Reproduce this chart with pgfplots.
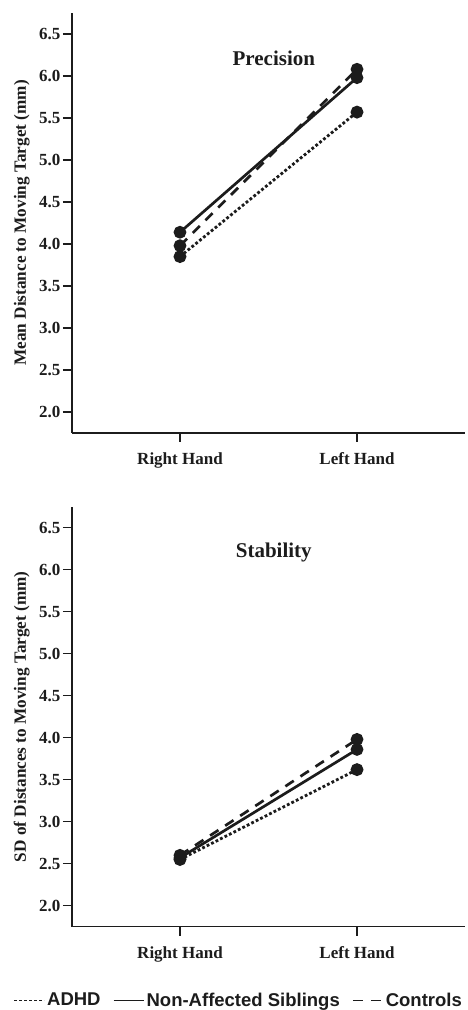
\documentclass[border=0pt]{standalone}
\usepackage{pgfplots}
\pgfplotsset{compat=1.18}
\usepackage{fontspec}
\setmainfont{Liberation Serif}
\newfontfamily\legfont{Liberation Sans}
\definecolor{ink}{HTML}{1C1C1C}
\begin{document}
\begin{tikzpicture}
\useasboundingbox (0pt,0pt) rectangle (467pt,1010pt);
\pgfplotsset{
  myaxis/.style={
    scale only axis, width=393pt, height=420pt,
    xmin=-0.61, xmax=1.61, ymin=1.75, ymax=6.75,
    axis lines=left,
    axis line style={-, line width=1.1pt, draw=ink},
    xtick={0,1}, xticklabels={Right Hand, Left Hand},
    ytick={2,2.5,3,3.5,4,4.5,5,5.5,6,6.5},
    tick align=outside, major tick length=9pt,
    every tick/.style={line width=1.1pt, draw=ink},
    /pgf/number format/fixed,
    /pgf/number format/fixed zerofill,
    /pgf/number format/precision=1,
    /pgf/number format/assume math mode=true,
    yticklabel style={font=\fontsize{17}{20}\selectfont\bfseries, text=ink, inner sep=2.5pt},
    xticklabel style={font=\fontsize{17}{20}\selectfont\bfseries, text=ink, yshift=-7pt},
    every axis y label/.style={at={(axis description cs:-0.128,0.5)}, rotate=90, anchor=center,
      font=\fontsize{17.2}{20}\selectfont\bfseries, text=ink},
    clip=false,
  },
  adhd/.style={draw=ink, line width=2.8pt, dash pattern=on 2.8pt off 2.2pt, mark=*, mark size=5pt, mark options={solid, fill=ink, draw=ink}},
  sib/.style={draw=ink, line width=2.7pt, solid, mark=*, mark size=5pt, mark options={solid, fill=ink, draw=ink}},
  ctrl/.style={draw=ink, line width=2.7pt, dash pattern=on 10pt off 8pt, mark=*, mark size=5pt, mark options={solid, fill=ink, draw=ink}},
}
\begin{axis}[myaxis, at={(72pt,577pt)}, anchor=south west, ylabel={Mean Distance to Moving Target (mm)}]
\addplot[adhd] coordinates {(0,3.85) (1,5.57)};
\addplot[ctrl] coordinates {(0,3.98) (1,6.08)};
\addplot[sib] coordinates {(0,4.14) (1,5.98)};
\node[font=\fontsize{21}{25}\selectfont\bfseries, text=ink] at (axis cs:0.53,6.21) {Precision};
\end{axis}
\begin{axis}[myaxis, at={(72pt,83.3pt)}, anchor=south west, ylabel={SD of Distances to Moving Target (mm)},
  legend columns=3,
  legend style={at={(axis description cs:0.425,-0.175)}, anchor=center, draw=none, fill=none,
    inner sep=0pt, font=\legfont\bfseries\fontsize{18.5}{22}\selectfont, text=ink,
    nodes={inner sep=2.5pt},
    /tikz/every even column/.append style={column sep=10pt}},
  legend image code/.code={\draw[#1, line width=1pt] (0pt,0pt) -- (30pt,0pt);},
]
\addplot[adhd] coordinates {(0,2.55) (1,3.62)};
\addlegendentry{ADHD}
\addplot[sib] coordinates {(0,2.57) (1,3.86)};
\addlegendentry{Non-Affected Siblings}
\addplot[ctrl] coordinates {(0,2.60) (1,3.98)};
\addlegendentry{Controls}
\node[font=\fontsize{21}{25}\selectfont\bfseries, text=ink] at (axis cs:0.53,6.21) {Stability};
\end{axis}
\end{tikzpicture}
\end{document}
